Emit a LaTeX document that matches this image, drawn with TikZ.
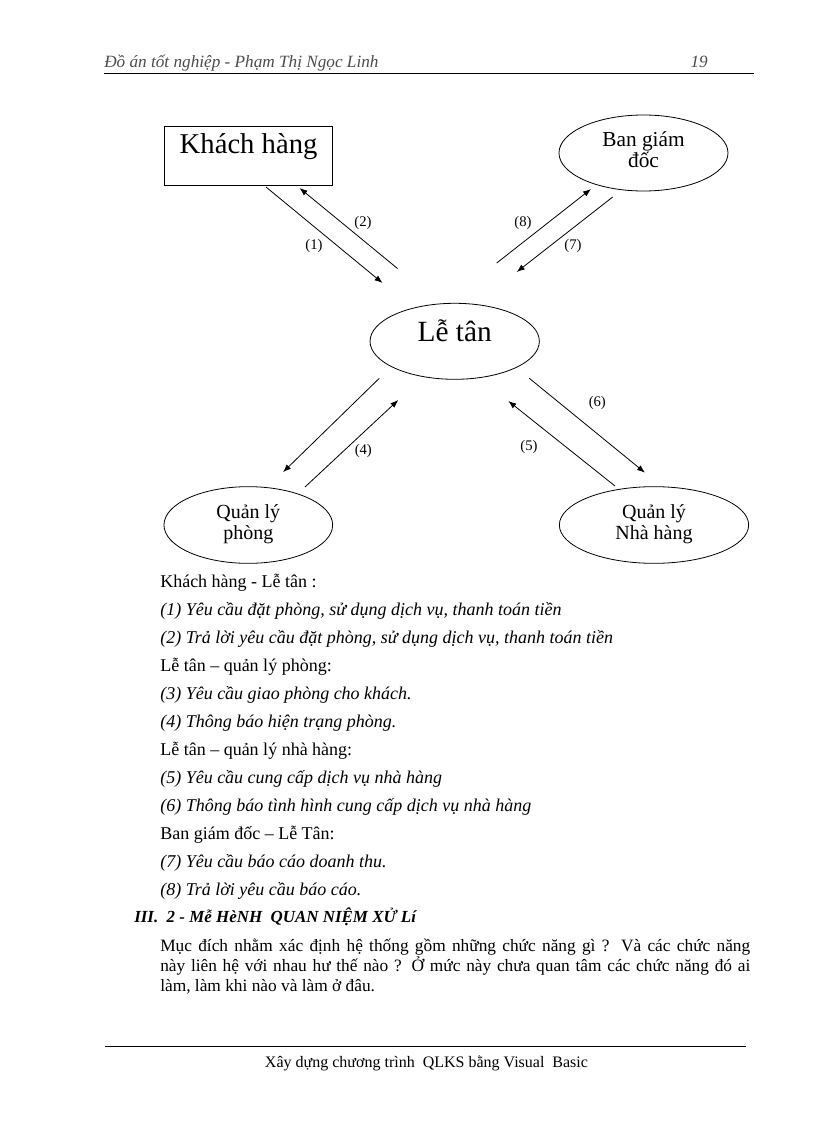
\documentclass[tikz,border=0pt]{standalone}
\usepackage{fontspec}
\setmainfont{Liberation Serif}
\usetikzlibrary{positioning, calc, arrows.meta, shapes.geometric}

\begin{document}
\begin{tikzpicture}
    [x=0.75pt, y=-0.75pt,
    squarednode/.style={rectangle, draw=black, line width=0.6pt, inner sep=0pt},
    ovalnode/.style={ellipse, draw=black, line width=0.6pt, inner sep=0pt, align=center},
    flow/.style={-{Latex[length=6pt,width=4.5pt]}, line width=0.6pt},
    numlabel/.style={inner sep=0pt, font=\fontsize{11}{11}\selectfont},]

    \useasboundingbox (0,0) rectangle (816,1123);
    \fill[white] (0,0) rectangle (816,1123);

    %Header
    \node[anchor=base west, inner sep=0pt, text=black!70, font=\itshape\fontsize{12.9}{13}\selectfont](head) at (104,68) {Đồ án tốt nghiệp - Phạm Thị Ngọc Linh};
    \node[anchor=base east, inner sep=0pt, text=black!70, font=\itshape\fontsize{12.9}{13}\selectfont](pagenum) at (708,68) {19};
    \draw[line width=1.1pt] (104,73.5) -- (754,73.5);

    %Nodes
    \node[squarednode, anchor=base, minimum width=126.2pt, text height=21pt, text depth=23.25pt, font=\fontsize{21.5}{22}\selectfont](KH) at (248.6,154) {Khách hàng};
    \node[ovalnode, minimum width=126.75pt, minimum height=57pt, text height=27pt, text depth=4.5pt, font=\fontsize{16}{16}\selectfont](BGD) at (643.5,153) {Ban giám\\đốc};
    \node[ovalnode, minimum width=127pt, minimum height=57pt, text height=10pt, text depth=10pt, font=\fontsize{22}{22}\selectfont](LT) at (454.7,341.3) {Lễ tân};
    \node[ovalnode, minimum width=126.5pt, minimum height=57.5pt, text height=25pt, text depth=3.55pt, font=\fontsize{15}{15.5}\selectfont](QLP) at (248.3,525) {Quản lý\\phòng};
    \node[ovalnode, minimum width=142pt, minimum height=57.5pt, text height=25pt, text depth=3.55pt, font=\fontsize{15}{15.5}\selectfont](QLNH) at (654,525) {Quản lý\\Nhà hàng};

    %Lines
    \draw[flow]([shift={(17.4,31.5)}]KH.center)--([shift={(-72.2,-58.3)}]LT.center);
    \draw[flow]([shift={(-57.2,-72.8)}]LT.center)--([shift={(50.9,32.5)}]KH.center);
    \draw[flow]([shift={(42,-78.3)}]LT.center)--([shift={(-52.5,36)}]BGD.center);
    \draw[flow]([shift={(-30.8,44)}]BGD.center)--([shift={(62,-69.3)}]LT.center);
    \draw[flow]([shift={(-75.4,37)}]LT.center)--([shift={(34.7,-52.8)}]QLP.center);
    \draw[flow]([shift={(56.7,-38)}]QLP.center)--([shift={(-56.4,58.7)}]LT.center);
    \draw[flow]([shift={(-39,-39)}]QLNH.center)--([shift={(53.6,59.7)}]LT.center);
    \draw[flow]([shift={(74.6,37)}]LT.center)--([shift={(-9,-52.3)}]QLNH.center);

    %Labels
    \node[numlabel](n1) at (314,246) {(1)};
    \node[numlabel](n2) at (363,223) {(2)};
    \node[numlabel](n4) at (363.3,450.7) {(4)};
    \node[numlabel](n5) at (529,447) {(5)};
    \node[numlabel](n6) at (597.3,402.7) {(6)};
    \node[numlabel](n7) at (573,246) {(7)};
    \node[numlabel](n8) at (523,223) {(8)};

    %Text below
    \node[anchor=base west, inner sep=0pt, align=left, font=\fontsize{13.5}{20.98}\selectfont](notes) at (160,895.3) {Khách hàng - Lễ tân :\\
        \textit{(1) Yêu cầu đặt phòng, sử dụng dịch vụ, thanh toán tiền}\\
        \textit{(2) Trả lời yêu cầu đặt phòng, sử dụng dịch vụ, thanh toán tiền}\\
        Lễ tân – quản lý phòng:\\
        \textit{(3) Yêu cầu giao phòng cho khách.}\\
        \textit{(4) Thông báo hiện trạng phòng.}\\
        Lễ tân – quản lý nhà hàng:\\
        \textit{(5) Yêu cầu cung cấp dịch vụ nhà hàng}\\
        \textit{(6) Thông báo tình hình cung cấp dịch vụ nhà hàng}\\
        Ban giám đốc – Lễ Tân:\\
        \textit{(7) Yêu cầu báo cáo doanh thu.}\\
        \textit{(8) Trả lời yêu cầu báo cáo.}};
    \node[anchor=base west, inner sep=0pt, font=\bfseries\itshape\fontsize{12.7}{15}\selectfont](sect) at (134,922) {III.\ \ 2 - Mễ HèNH\ \ QUAN NIỆM XỬ Lí};
    \node[anchor=base west, inner sep=0pt, text width=442.5pt, align=justify, font=\fontsize{13}{15}\selectfont](para) at (160,951.5) {Mục đích nhằm xác định hệ thống gồm những chức năng gì ? Và các chức năng\linebreak này liên hệ với nhau hư thế nào ? Ở mức này chưa quan tâm các chức năng đó ai\linebreak làm, làm khi nào và làm ở đâu.};

    %Footer
    \draw[line width=0.7pt] (105,1046.5) -- (746,1046.5);
    \node[anchor=base, inner sep=0pt, font=\fontsize{12}{13}\selectfont](foot) at (426.5,1067.5) {Xây dựng chương trình\ \ QLKS bằng Visual\ \ Basic};
\end{tikzpicture}
\end{document}
